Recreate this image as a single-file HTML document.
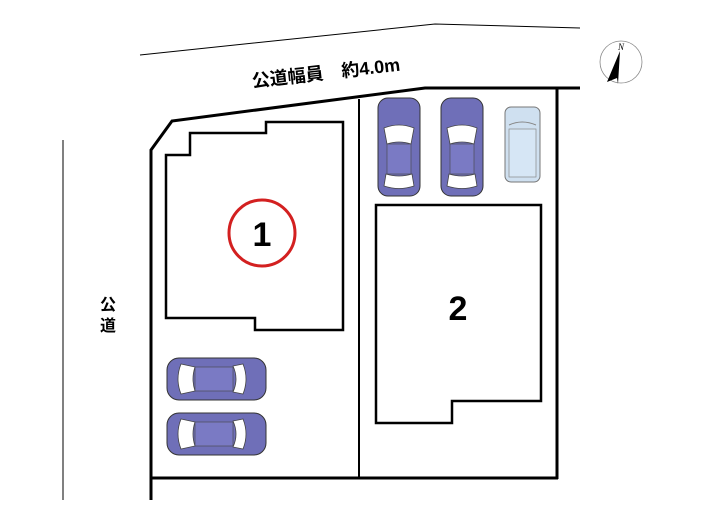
<!DOCTYPE html>
<html><head><meta charset="utf-8"><style>
html,body{margin:0;padding:0;background:#fff;}
svg{display:block;font-family:"Liberation Sans","Noto Sans CJK JP",sans-serif;}
</style></head><body>
<svg width="705" height="525" viewBox="0 0 705 525" xmlns="http://www.w3.org/2000/svg">
<defs>
<g id="car">
 <rect x="0" y="0" width="42" height="98" rx="10" fill="#6f6fb8" stroke="#333" stroke-width="1"/>
 <path d="M6 30 Q21 24 36 30 L33 46 Q21 42 9 46 Z" fill="#fff" stroke="#444" stroke-width="0.8"/>
 <path d="M8 76 Q21 80 34 76 L36 88 Q21 93 6 88 Z" fill="#fff" stroke="#444" stroke-width="0.8"/>
 <rect x="9" y="46" width="24" height="30" fill="#7a7ac4" stroke="#444" stroke-width="0.6"/>
</g>
<g id="carh">
 <rect x="0" y="0" width="99" height="42" rx="12" fill="#6f6fb8" stroke="#333" stroke-width="1"/>
 <path d="M14 6 Q8 21 14 36 L28 33 Q24 21 28 9 Z" fill="#fff" stroke="#444" stroke-width="0.8"/>
 <path d="M66 8 Q72 21 66 34 L76 36 Q82 21 76 6 Z" fill="#fff" stroke="#444" stroke-width="0.8"/>
 <rect x="28" y="9" width="38" height="24" fill="#7a7ac4" stroke="#444" stroke-width="0.6"/>
</g>
</defs>
<g fill="none" stroke="#000">
 <polyline points="140,55 435,24 580,28" stroke-width="1"/>
 <line x1="63" y1="140" x2="63" y2="500" stroke-width="1"/>
 <polyline points="151,500 151,150 172,121 425,88 580,88" stroke-width="3"/>
 <line x1="557" y1="88" x2="557" y2="479" stroke-width="3"/>
 <line x1="151" y1="478" x2="558" y2="478" stroke-width="3"/>
 <line x1="359" y1="99" x2="359" y2="478" stroke-width="2"/>
 <polygon points="166,155 190,155 190,133 266,133 266,122 343,122 343,330 255,330 255,318 166,318" stroke-width="2.5"/>
 <polygon points="376,205 541,205 541,401 452,401 452,423 376,423" stroke-width="2.5"/>
</g>
<text x="326" y="79" font-size="18" font-weight="bold" text-anchor="middle" transform="rotate(-6.5 326 73)">公道幅員　約4.0m</text>
<text x="108" y="310" font-size="16" font-weight="bold" text-anchor="middle">公</text>
<text x="108" y="331" font-size="16" font-weight="bold" text-anchor="middle">道</text>
<circle cx="262" cy="233" r="33" fill="none" stroke="#d32020" stroke-width="3"/>
<text x="262" y="246" font-size="34" font-weight="bold" text-anchor="middle">1</text>
<text x="458" y="320" font-size="34" font-weight="bold" text-anchor="middle">2</text>
<circle cx="621" cy="62" r="21" fill="#fff" stroke="#888" stroke-width="0.8"/>
<polygon points="620,51 607,82 617,78 618,84" fill="#000"/>
<text x="621" y="50" font-size="9" font-style="italic" font-family="Liberation Serif,serif" text-anchor="middle">N</text>
<use href="#car" x="378" y="98"/>
<use href="#car" x="441" y="98"/>
<g transform="translate(505,107)">
 <rect x="0" y="0" width="35" height="75" rx="6" fill="#cfe0f0" stroke="#777" stroke-width="1"/>
 <rect x="4" y="22" width="27" height="48" fill="#d6e6f5" stroke="#888" stroke-width="0.7"/>
 <path d="M4 18 Q17 12 31 18" fill="none" stroke="#888"/>
</g>
<use href="#carh" x="167" y="358"/>
<use href="#carh" x="167" y="413"/>
</svg>
</body></html>
